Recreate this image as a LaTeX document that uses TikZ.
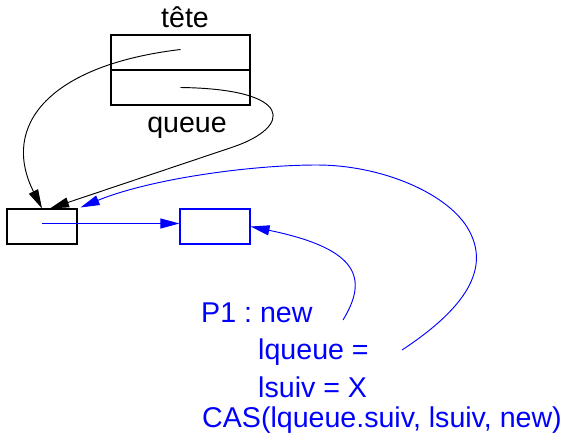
\documentclass[tikz,border=0pt]{standalone}
\usepackage{fontspec}
\setmainfont{Liberation Sans}
\usetikzlibrary{
  arrows.meta, % Triangle 箭头
  calc         % 坐标计算
}
\frenchspacing
\tikzset{
  cellule/.style={
    draw,
    line width=0.9pt,
    minimum width=4.17cm,
    minimum height=1.05cm,
    inner sep=0pt
  },
  maillon/.style={
    draw,
    line width=0.9pt,
    minimum width=2.1cm,
    minimum height=1.05cm,
    inner sep=0pt
  },
  fleche/.style={
    -{Triangle[length=0.57cm, width=0.3cm]},
    line width=0.8pt
  },
  texte/.style={
    inner sep=0pt,
    font=\fontsize{24.4}{29}\selectfont
  }
}

\begin{document}
\begin{tikzpicture}[x=0.03cm, y=0.03cm] % 坐标按原图像素（y 轴向上）

  \useasboundingbox (0,0) rectangle (577,439); % 固定画布大小

  % 上方的 tête / queue 描述块
  \node[cellule] (tetecell) at (180.5, 386.5) {}; % tête 格
  \node[cellule] (queuecell) at (180.5, 351.5) {}; % queue 格
  \node[texte, anchor=base] (lbltete) at (185, 411) {tête}; % 上方标签
  \node[texte, anchor=base] (lblqueue) at (187, 306) {queue}; % 下方标签

  % 链表中的两个结点
  \node[maillon] (m1) at (42, 212.5) {}; % 已有结点
  \node[maillon, draw=blue] (m2) at (215, 212.5) {}; % 新结点（蓝色）

  % 黑色指针：tête 与 queue 都指向 m1
  \draw[fleche] ($(tetecell.center)+(0,3)$) .. controls (50, 374) and (0, 314) .. (m1.north); % tête 指针
  \draw[fleche] (queuecell.center) .. controls (295, 350) and (292, 312) .. (233, 292) -- ($(m1.north)+(8,0)$); % queue 指针

  % 进程 P1 的文字（蓝色）
  \node[texte, blue, anchor=base west] (p1) at (201, 116) {P1 : new}; % 第一行
  \node[texte, blue, anchor=base west] (lq) at (258, 79) {lqueue =}; % 第二行
  \node[texte, blue, anchor=base west] (ls) at (258, 42) {lsuiv = X}; % 第三行
  \node[texte, blue, anchor=base west] (cas) at (202, 12) {CAS(lqueue.suiv, lsuiv, new)}; % 第四行

  % 蓝色指针
  \coordinate (depnew) at (343, 119); % new 指针起点
  \coordinate (deplq) at (402, 89); % lqueue 指针起点
  \draw[fleche, blue] ($(m1.center)+(0,3)$) -- ($(m2.west)+(0,3)$); % m1 的 suiv 指向新结点
  \draw[fleche, blue] (depnew) .. controls (368, 160) and (360, 190) .. (m2.east); % new 指向新结点
  \draw[fleche, blue] (deplq) .. controls (472, 135) and (490, 175) .. (467, 212)
    .. controls (445, 247) and (380, 274) .. (317, 274)
    .. controls (250, 274) and (150, 260) .. ($(m1.north east)+(3,1)$); % lqueue 指向 m1

\end{tikzpicture}
\end{document}
